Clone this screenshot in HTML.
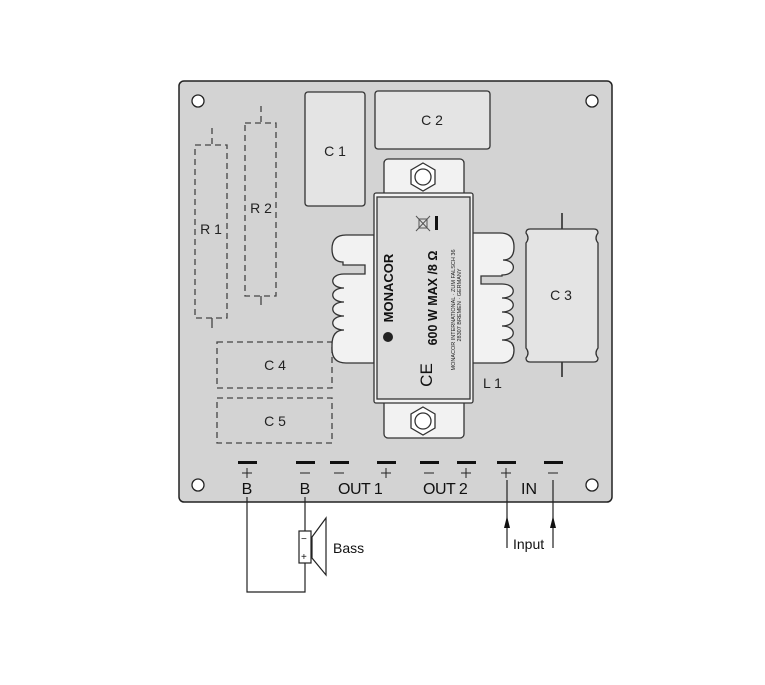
<!DOCTYPE html>
<html><head><meta charset="utf-8"><style>
html,body{margin:0;padding:0;background:#fff;}
svg{display:block;font-family:"Liberation Sans",sans-serif;}
</style></head><body>
<svg width="765" height="685" viewBox="0 0 765 685" xmlns="http://www.w3.org/2000/svg">
<rect x="179" y="81" width="433" height="421" rx="5" fill="#d3d3d3" stroke="#222" stroke-width="1.5"/>
<g fill="#fff" stroke="#222" stroke-width="1.3">
<circle cx="198" cy="101" r="6"/><circle cx="592" cy="101" r="6"/>
<circle cx="198" cy="485" r="6"/><circle cx="592" cy="485" r="6"/>
</g>
<g fill="none" stroke="#444" stroke-width="1.3" stroke-dasharray="6,4">
<rect x="195" y="145" width="32" height="173"/>
<rect x="245" y="123" width="31" height="173"/>
<rect x="217" y="342" width="115" height="46"/>
<rect x="217" y="398" width="115" height="45"/>
</g>
<g stroke="#444" stroke-width="1.3">
<line x1="212" y1="128" x2="212" y2="145" stroke-dasharray="6,4"/>
<line x1="212" y1="318" x2="212" y2="328"/>
<line x1="261" y1="106" x2="261" y2="123" stroke-dasharray="6,4"/>
<line x1="261" y1="296" x2="261" y2="305"/>
</g>
<g font-size="14" fill="#222" text-anchor="middle">
<text x="211" y="234">R 1</text>
<text x="261" y="213">R 2</text>
<text x="275" y="370">C 4</text>
<text x="275" y="426">C 5</text>
</g>
<rect x="305" y="92" width="60" height="114" rx="3" fill="#e4e4e4" stroke="#333" stroke-width="1.3"/>
<rect x="375" y="91" width="115" height="58" rx="3" fill="#e4e4e4" stroke="#333" stroke-width="1.3"/>
<text x="335" y="156" font-size="14" text-anchor="middle" fill="#222">C 1</text>
<text x="432" y="125" font-size="14" text-anchor="middle" fill="#222">C 2</text>
<line x1="562" y1="213" x2="562" y2="230" stroke="#222" stroke-width="1.5"/>
<line x1="562" y1="362" x2="562" y2="377" stroke="#222" stroke-width="1.5"/>
<path d="M530,229 H594 Q598,229 598,233 Q594,238 598,243 V348 Q594,353 598,358 Q598,362 594,362 H530 Q526,362 526,358 Q530,353 526,348 V243 Q530,238 526,233 Q526,229 530,229 Z" fill="#e4e4e4" stroke="#333" stroke-width="1.3"/>
<text x="561" y="300" font-size="14" text-anchor="middle" fill="#222">C 3</text>
<g fill="#f2f2f2" stroke="#333" stroke-width="1.3">
<path d="M374,235 H346 Q332,235 332,249 Q332,262 343,262 V265 H365 V274 H344 C329,274 329,288 344,288 C329,288 329,302 344,302 C329,302 329,316 344,316 C329,316 329,330 344,330 Q332,330 332,345 V349 Q332,363 346,363 H374 Z"/>
<path d="M472,233 H500 Q514,233 514,247 Q514,260 503,260 C517,260 517,275 502,275 V276 H481 V284 H502 C517,284 517,298 502,298 C517,298 517,312 502,312 C517,312 517,326 502,326 C517,326 517,340 502,340 Q514,340 514,350 Q514,363 500,363 H472 Z"/>
<rect x="384" y="159" width="80" height="40" rx="4"/>
<rect x="384" y="398" width="80" height="40" rx="4"/>
</g>
<g fill="#fff" stroke="#333" stroke-width="1.3">
<polygon points="423,163 435,170 435,184 423,191 411,184 411,170"/>
<circle cx="423" cy="177" r="8"/>
<polygon points="423,407 435,414 435,428 423,435 411,428 411,414"/>
<circle cx="423" cy="421" r="8"/>
</g>
<rect x="374" y="193" width="99" height="210" rx="2" fill="#f2f2f2" stroke="#333" stroke-width="1.3"/>
<rect x="377" y="197" width="93" height="202" fill="#dcdcdc" stroke="#333" stroke-width="1.3"/>
<text x="393" y="288" font-size="13" font-weight="bold" fill="#111" text-anchor="middle" transform="rotate(-90 393 288)">MONACOR</text>
<circle cx="388" cy="337" r="5" fill="#222"/>
<text x="437" y="298" font-size="12.5" font-weight="bold" fill="#111" text-anchor="middle" transform="rotate(-90 437 298)">600 W MAX /8 Ω</text>
<text x="432" y="375" font-size="17" fill="#111" text-anchor="middle" transform="rotate(-90 432 375)">CE</text>
<text x="455" y="310" font-size="5.5" fill="#222" text-anchor="middle" transform="rotate(-90 455 310)">MONACOR INTERNATIONAL · ZUM FALSCH 36</text>
<text x="461" y="305" font-size="5.5" fill="#222" text-anchor="middle" transform="rotate(-90 461 305)">28307 BREMEN · GERMANY</text>
<g stroke="#555" stroke-width="1" fill="none">
<rect x="419" y="219" width="8" height="9"/>
<line x1="416" y1="216" x2="430" y2="231"/><line x1="430" y1="216" x2="416" y2="231"/>
</g>
<rect x="435" y="216" width="3" height="14" fill="#111"/>
<text x="483" y="388" font-size="14" fill="#222">L 1</text>
<g fill="#111">
<rect x="238" y="461" width="19" height="3"/><rect x="296" y="461" width="19" height="3"/>
<rect x="330" y="461" width="19" height="3"/><rect x="377" y="461" width="19" height="3"/>
<rect x="420" y="461" width="19" height="3"/><rect x="457" y="461" width="19" height="3"/>
<rect x="497" y="461" width="19" height="3"/><rect x="544" y="461" width="19" height="3"/>
</g>
<g stroke="#222" stroke-width="1">
<line x1="242" y1="473" x2="252" y2="473"/><line x1="247" y1="468" x2="247" y2="478"/>
<line x1="300" y1="473" x2="310" y2="473"/>
<line x1="334" y1="473" x2="344" y2="473"/>
<line x1="381" y1="473" x2="391" y2="473"/><line x1="386" y1="468" x2="386" y2="478"/>
<line x1="424" y1="473" x2="434" y2="473"/>
<line x1="461" y1="473" x2="471" y2="473"/><line x1="466" y1="468" x2="466" y2="478"/>
<line x1="501" y1="473" x2="511" y2="473"/><line x1="506" y1="468" x2="506" y2="478"/>
<line x1="548" y1="473" x2="558" y2="473"/>
</g>
<g font-size="16" fill="#111">
<text x="247" y="494" text-anchor="middle">B</text>
<text x="305" y="494" text-anchor="middle">B</text>
<text x="338" y="494" letter-spacing="-0.5">OUT 1</text>
<text x="423" y="494" letter-spacing="-0.5">OUT 2</text>
<text x="521" y="494">IN</text>
</g>
<g fill="none" stroke="#222" stroke-width="1.2">
<polyline points="247,497 247,592 305,592 305,563"/>
<line x1="305" y1="497" x2="305" y2="531"/>
<rect x="299" y="531" width="12" height="32" fill="#fff"/>
<polygon points="312,537 326,518 326,575 312,558" fill="#fff"/>
<line x1="507" y1="480" x2="507" y2="548"/>
<line x1="553" y1="480" x2="553" y2="548"/>
</g>
<g fill="#111">
<polygon points="507,516 504,528 510,528"/>
<polygon points="553,516 550,528 556,528"/>
</g>
<text x="301" y="542" font-size="10" fill="#111">−</text>
<text x="301" y="560" font-size="10" fill="#111">+</text>
<text x="333" y="553" font-size="14" fill="#111">Bass</text>
<text x="513" y="549" font-size="14" fill="#111">Input</text>
</svg>
</body></html>
